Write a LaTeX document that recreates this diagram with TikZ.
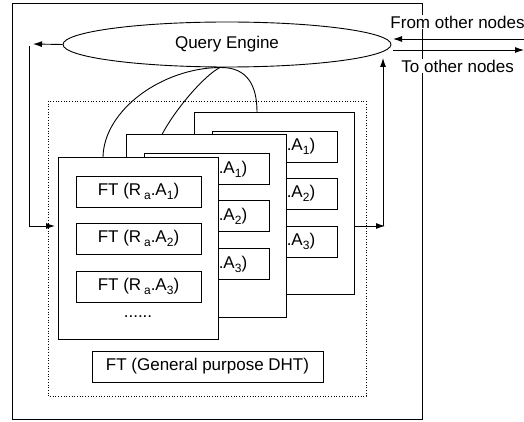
\documentclass[tikz,border=0pt]{standalone}
\usepackage{fontspec}
\setmainfont{Liberation Sans}
\usetikzlibrary{arrows.meta,shapes.geometric}
% lowered, smaller index used in the table labels
\newcommand\lowsub[1]{\raisebox{-0.45ex}{\fontsize{12}{12}\selectfont #1}}

\begin{document}
\begin{tikzpicture}[x=1pt,y=-1pt,line width=0.9pt,
  every node/.style={font=\fontsize{17}{20}\selectfont},
  arr/.style={-{Latex[length=9pt,width=6pt]}},
  card/.style={draw,fill=white,minimum width=160pt,minimum height=182pt,anchor=north west,inner sep=0pt},
  ftbox/.style={draw,fill=white,minimum width=125pt,minimum height=31pt,inner sep=0pt},
  tag/.style={fill=white,inner sep=1pt,anchor=west}]
\useasboundingbox (0,0) rectangle (524,422);

% node frame
\draw (12,3) rectangle (422,419);

% query engine
\node[ellipse,draw,fill=white,minimum width=328pt,minimum height=45pt,inner sep=0pt] (qe) at (227,44.5) {Query Engine};

% local storage area
\draw[dotted,line width=0.7pt] (48,101) rectangle (366,396);

% stacked tables, back to front
\foreach \i/\x/\y in {3/194/112,2/126/134.5,1/58/157} {
  \node[card] (c\i) at (\x,\y) {};
  \node[ftbox] (c\i a) at ({\x+80.5},{\y+34.5}) {FT (R\,\lowsub{a}.A\lowsub{1})};
  \node[ftbox] (c\i b) at ({\x+80.5},{\y+81.5}) {FT (R\,\lowsub{a}.A\lowsub{2})};
  \node[ftbox] (c\i c) at ({\x+80.5},{\y+129.5}) {FT (R\,\lowsub{a}.A\lowsub{3})};
  \node (c\i d) at ({\x+80},{\y+160}) {......};
}

\node[draw,minimum width=231pt,minimum height=31pt,inner sep=0pt] (gp) at (207.5,366.5) {FT (General purpose DHT)};

% links from the engine to the tables
\coordinate (tap) at (220,67.5);
\coordinate (t1) at (103,157);
\coordinate (t2) at (162,134.5);
\coordinate (t3) at (257,112);
\draw (tap) .. controls (162,68) and (104,110) .. (t1);
\draw (tap) .. controls (205,75) and (176,108) .. (t2);
\draw (tap) .. controls (247,67) and (257,85) .. (t3);

% left loop
\coordinate (l1) at (33,44);
\coordinate (l2) at (29,46);
\coordinate (l3) at (29,226);
\coordinate (l4) at (55,226);
\draw[arr] (qe.west) -- (l1);
\draw[arr] (l2) -- (l3) -- (l4);

% right loop
\coordinate (r1) at (385,226);
\coordinate (r2) at (383,226);
\coordinate (r3) at (383,58);
\draw[arr] (c3.east |- r1) -- (r1);
\draw[arr] (r2) -- (r3);

% traffic with other nodes
\coordinate (inA) at (524,39);
\coordinate (inB) at (393,39);
\coordinate (outA) at (393,50);
\coordinate (outB) at (524,50);
\draw[arr] (inA) -- (inB);
\draw[arr] (outA) -- (outB);
\node[tag] (from) at (389,22) {From other nodes};
\node[tag] (to) at (400,66) {To other nodes};
\end{tikzpicture}
\end{document}
